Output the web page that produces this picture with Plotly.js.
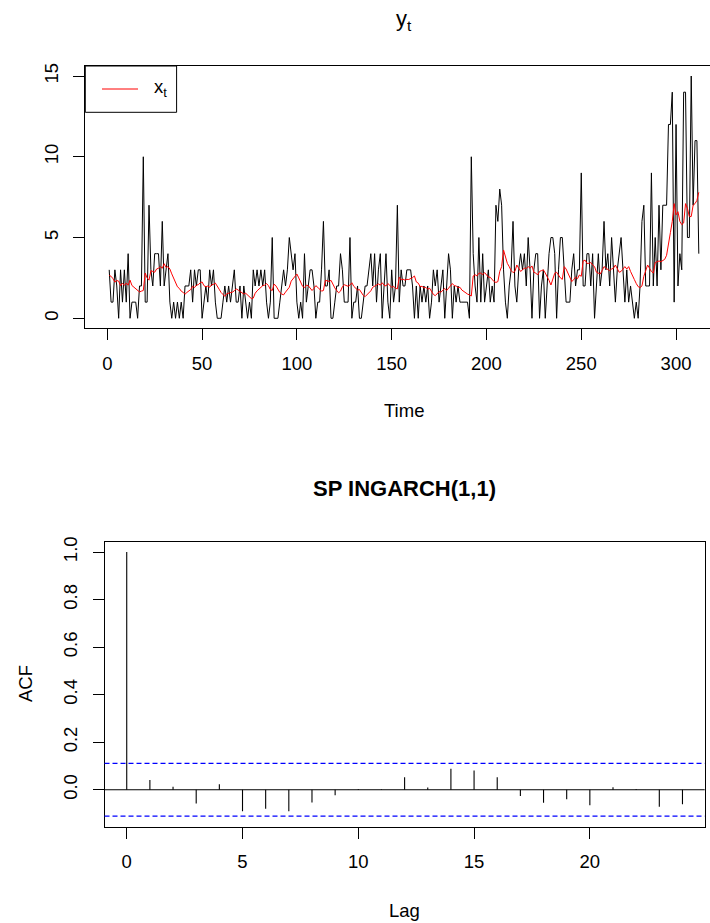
<!DOCTYPE html>
<html>
<head>
<meta charset="utf-8">
<script src="https://cdn.plot.ly/plotly-3.0.1.min.js"></script>
<style>
html,body{margin:0;padding:0;background:#fff;overflow:hidden;}
#chart{width:710px;height:923px;}
</style>
</head>
<body>
<div id="chart"></div>
<script>
// ---- data: observed counts y_t (t = 1..312) ----
const yCounts = [
3,1,1,3,2,0,3,1,3,1,
4,0,1,1,1,0,2,2,10,1,
1,7,3,2,4,4,4,2,6,2,
3,4,1,0,1,0,1,0,1,0,
2,2,2,3,1,3,2,3,3,0,
1,2,1,3,2,3,1,0,0,0,
1,2,1,2,1,2,3,1,1,2,
0,2,1,0,1,0,3,2,3,2,
3,2,3,1,0,1,5,0,0,0,
1,2,3,2,3,5,4,3,4,1,
0,1,0,4,1,2,3,3,2,0,
1,1,3,6,2,2,3,0,0,1,
2,2,4,3,1,1,1,5,0,1,
1,2,0,0,1,2,2,3,4,2,
4,1,3,4,0,2,4,1,0,3,
1,2,7,1,3,2,2,3,3,3,
2,0,2,0,2,1,2,1,2,0,
1,3,2,3,1,2,3,0,2,4,
3,0,2,1,2,1,1,1,1,1,
0,10,4,2,1,5,1,4,1,2,
3,1,2,1,7,6,8,7,3,1,
0,2,3,6,2,1,3,4,3,4,
2,5,3,0,3,4,4,0,2,3,
0,2,4,5,5,4,0,3,5,5,
3,1,1,1,3,4,2,3,3,9,
2,2,4,4,2,4,0,2,4,2,
3,6,3,4,2,5,3,1,3,4,
5,3,1,3,1,2,1,0,1,0,
2,6,7,2,2,2,9,2,5,2,
7,3,7,7,7,12,12,14,1,12,
2,4,3,14,14,5,5,15,7,11,
11,4
];
// ---- data: fitted conditional mean x_t (red line) ----
const xMean = [
2.66,2.60,2.45,2.24,2.34,2.30,2.02,2.17,2.04,2.18,
2.05,2.36,2.03,1.93,1.86,1.78,1.63,1.68,1.72,2.80,
2.50,2.36,2.95,2.90,2.85,3.05,3.10,3.20,3.10,3.38,
3.15,3.20,3.05,2.75,2.45,2.20,1.95,1.85,1.68,1.60,
1.49,1.60,1.72,1.78,1.98,1.90,2.05,2.08,2.20,2.25,
2.02,1.95,2.00,1.92,2.08,2.10,2.18,2.02,1.80,1.60,
1.45,1.36,1.52,1.55,1.60,1.62,1.70,1.82,1.75,1.68,
1.62,1.50,1.55,1.45,1.30,1.22,1.25,1.55,1.70,1.82,
1.90,2.02,2.05,2.15,2.02,1.78,1.72,2.12,2.00,1.78,
1.60,1.50,1.45,1.62,1.75,1.92,2.30,2.45,2.55,2.74,
2.50,2.22,1.98,1.90,2.05,2.02,1.85,1.72,1.85,2.02,
1.92,1.80,1.68,1.72,2.35,2.32,2.28,2.35,2.10,1.88,
1.72,1.58,1.68,1.95,2.08,2.02,1.98,2.06,2.20,1.98,
1.85,1.75,1.78,1.58,1.42,1.34,1.45,1.58,1.70,1.92,
2.00,2.10,2.13,2.05,2.20,2.05,2.00,2.15,2.06,1.92,
1.98,1.86,1.82,2.54,2.38,2.42,2.36,2.41,2.40,2.45,
2.52,2.62,2.25,2.18,1.96,1.98,1.88,1.92,1.80,1.86,
1.62,1.48,1.40,1.55,1.65,1.62,1.72,1.85,1.72,1.85,
2.05,2.15,2.02,2.00,1.90,1.92,1.75,1.65,1.58,1.50,
1.45,1.38,2.62,2.70,2.62,2.79,2.80,2.70,2.83,2.65,
2.55,2.54,2.38,2.27,2.22,2.27,2.90,3.20,4.23,3.80,
3.40,3.20,2.95,2.83,2.90,3.30,3.05,2.90,3.00,3.10,
3.08,3.20,3.10,3.24,2.85,2.80,2.68,2.90,2.95,3.00,
2.80,2.60,2.35,2.06,2.45,2.79,2.85,2.65,2.50,2.41,
3.20,3.05,2.75,2.50,2.27,2.40,2.55,2.45,2.68,2.60,
3.55,3.60,3.40,3.40,3.45,3.30,3.20,2.85,2.80,2.74,
2.95,3.20,3.10,3.00,2.95,3.05,3.10,3.30,3.05,2.85,
2.90,3.05,3.20,3.05,3.20,2.90,2.60,2.40,2.15,1.96,
1.90,2.00,2.60,3.00,3.30,3.10,2.90,2.80,3.45,3.50,
3.55,3.50,3.60,3.65,3.90,4.50,5.30,6.00,7.10,6.40,
6.60,6.00,5.80,5.90,7.10,6.80,6.30,6.30,7.00,7.10,
7.30,7.80
];
// ---- data: ACF of residuals ----
const acfLags = [0,1,2,3,4,5,6,7,8,9,10,11,12,13,14,15,16,17,18,19,20,21,22,23,24];
const acfValues = [1.000,0.041,0.013,-0.058,0.023,-0.090,-0.080,-0.090,-0.054,-0.023,0.003,0.002,
                   0.053,0.010,0.088,0.081,0.053,-0.026,-0.055,-0.040,-0.065,0.011,0.003,-0.071,-0.061];
const acfBound = [0.111];
// ---- tick labels ----
const timeTicks = [0,50,100,150,200,250,300];
const countTicks = [0,5,10,15];
const lagTicks = [0,5,10,15,20];
const acfTicks = [0,0.2,0.4,0.6,0.8,1.0];
const acfTickText = ["0.0","0.2","0.4","0.6","0.8","1.0"];

const timeIdx = yCounts.map((_, i) => i + 1);

// ACF vertical spikes built from arrays
const spikeX = [], spikeY = [];
acfLags.forEach((l, i) => { spikeX.push(l, l, null); spikeY.push(0, acfValues[i], null); });

const W = 710, H = 923;
const px = v => v / W;
const py = v => 1 - v / H;
const FONT = "Liberation Sans, Arial, Helvetica, sans-serif";
const FS = 18.5;

const axisBase = {
  showgrid: false, zeroline: false, showline: true, linecolor: "#000", linewidth: 1,
  ticks: "outside", ticklen: 11, tickwidth: 1, tickcolor: "#000",
  tickfont: {family: FONT, size: FS, color: "#000"}, fixedrange: true
};

const traces = [
  {x: timeIdx, y: yCounts, xaxis: "x", yaxis: "y", type: "scatter", mode: "lines",
   line: {color: "#000", width: 1}, hoverinfo: "skip"},
  {x: timeIdx, y: xMean, xaxis: "x", yaxis: "y", type: "scatter", mode: "lines",
   line: {color: "#FF0000", width: 1}, hoverinfo: "skip"},
  {x: spikeX, y: spikeY, xaxis: "x2", yaxis: "y2", type: "scatter", mode: "lines",
   line: {color: "#000", width: 1.1}, connectgaps: false, hoverinfo: "skip"}
];

const d2x0 = px(104.5), d2x1 = px(704.7);

const layout = {
  width: W, height: H,
  margin: {l: 0, r: 0, t: 0, b: 0},
  paper_bgcolor: "#fff", plot_bgcolor: "#fff",
  showlegend: false,
  font: {family: FONT, color: "#000"},
  xaxis: Object.assign({}, axisBase, {
    domain: [px(85.3), 1], anchor: "y", range: [-11.6, 317.9],
    tickvals: timeTicks, mirror: true, ticklabelstandoff: 7
  }),
  yaxis: Object.assign({}, axisBase, {
    domain: [py(328.3), py(66)], anchor: "x", range: [-0.62, 15.62],
    tickvals: countTicks, tickangle: -90, mirror: false, ticklabelstandoff: 8
  }),
  xaxis2: Object.assign({}, axisBase, {
    domain: [d2x0, d2x1], anchor: "y2", range: [-0.96, 24.96],
    tickvals: lagTicks, mirror: true, ticklabelstandoff: 7
  }),
  yaxis2: Object.assign({}, axisBase, {
    domain: [py(826.7), py(541.5)], anchor: "x2", range: [-0.1554, 1.0444],
    tickvals: acfTicks, ticktext: acfTickText, tickangle: -90, mirror: true, ticklabelstandoff: 8
  }),
  shapes: [
    // legend box and sample
    {type: "rect", xref: "paper", yref: "paper", x0: px(85.3), x1: px(176.6), y0: py(112.3), y1: py(66),
     line: {color: "#000", width: 1}, fillcolor: "#fff", layer: "above"},
    {type: "line", xref: "paper", yref: "paper", x0: px(102), x1: px(138), y0: py(89), y1: py(89),
     line: {color: "#FF0000", width: 1}, layer: "above"},
    // ACF zero line
    {type: "line", xref: "paper", yref: "y2", x0: d2x0, x1: d2x1, y0: 0, y1: 0,
     line: {color: "#000", width: 1}},
    // confidence bounds
    {type: "line", xref: "paper", yref: "y2", x0: d2x0, x1: d2x1, y0: acfBound[0], y1: acfBound[0],
     line: {color: "#0000FF", width: 1.3, dash: "5px,3px"}},
    {type: "line", xref: "paper", yref: "y2", x0: d2x0, x1: d2x1, y0: -acfBound[0], y1: -acfBound[0],
     line: {color: "#0000FF", width: 1.3, dash: "5px,3px"}}
  ],
  annotations: [
    {text: "y<sub>t</sub>", xref: "paper", yref: "paper", x: px(403.5), y: py(20), showarrow: false,
     xanchor: "center", yanchor: "middle", font: {family: FONT, size: 22, color: "#000"}},
    {text: "Time", xref: "paper", yref: "paper", x: px(403.5), y: py(410), showarrow: false,
     xanchor: "center", yanchor: "middle", font: {family: FONT, size: FS, color: "#000"}},
    {text: "x<sub>t</sub>", xref: "paper", yref: "paper", x: px(152), y: py(88), showarrow: false,
     xanchor: "left", yanchor: "middle", font: {family: FONT, size: FS, color: "#000"}},
    {text: "<b>SP INGARCH(1,1)</b>", xref: "paper", yref: "paper", x: px(404.6), y: py(488), showarrow: false,
     xanchor: "center", yanchor: "middle", font: {family: FONT, size: 22, color: "#000"}},
    {text: "ACF", xref: "paper", yref: "paper", x: px(25), y: py(684), showarrow: false, textangle: -90,
     xanchor: "center", yanchor: "middle", font: {family: FONT, size: FS, color: "#000"}},
    {text: "Lag", xref: "paper", yref: "paper", x: px(404.6), y: py(910), showarrow: false,
     xanchor: "center", yanchor: "middle", font: {family: FONT, size: FS, color: "#000"}}
  ]
};

Plotly.newPlot("chart", traces, layout, {staticPlot: true, displayModeBar: false});
</script>
</body>
</html>
